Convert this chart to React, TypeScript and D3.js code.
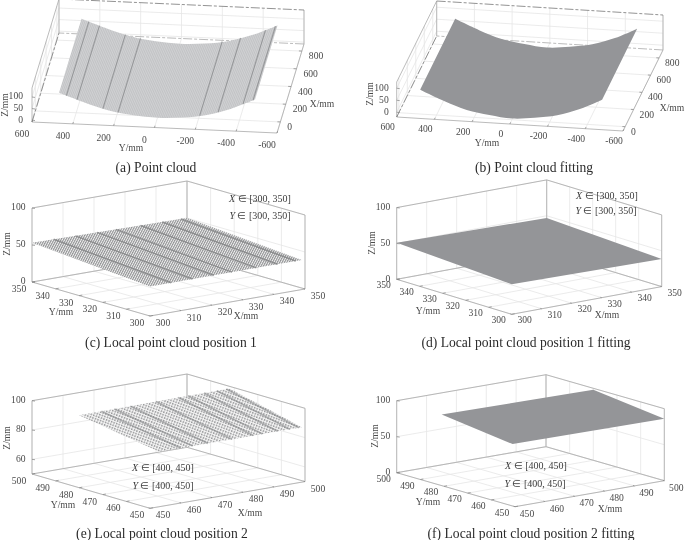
import React from "react";
import * as d3 from "d3";

// tick labels
const wideYTicks = [-600, -400, -200, 0, 200, 400, 600];
const wideXTicks = [0, 200, 400, 600, 800];
const wideZTicks = [0, 50, 100];
const ticks300 = [300, 310, 320, 330, 340, 350];
const ticks450 = [450, 460, 470, 480, 490, 500];
const zTicksE = [60, 80, 100];

// surface profiles (Z along Y)
const profileYA = [-476, -360, -240, -120, 0, 120, 240, 360, 484];
const profileZA = [84, 40, 8, -8, -14, -8, 8, 38, 75];
const profileYB = [-478, -360, -240, -120, 0, 120, 240, 360, 487];
const profileZB = [87, 42, 10, -6, -15, -6, 9, 40, 81];
const extentXA = [0, 836];
const extentXB = [0, 826];
const scanYA = [448, 396, 269, 195, -205, -295, -417, -466];

// local patches, corners in order left, front, right, back
const cornersXC = [300, 300, 349, 350];
const cornersYC = [350, 300, 300, 350];
const cornersZC = [53, 40, 40, 50];
const scanXC = [307, 314, 321, 327, 335, 342, 348];

const cornersXD = [300, 300, 350, 350];
const cornersYD = [350, 300, 300, 350];
const cornersZD = [51, 42, 38.6, 47];

const cornersXE = [453, 453, 499, 500];
const cornersYE = [484, 450, 450, 482];
const cornersZE = [96.4, 87.5, 87.5, 98.6];
const scanXE = [460, 464, 469, 477, 484, 487, 492, 496, 499];

const cornersXF = [450, 450, 500, 500];
const cornersYF = [481, 451, 450, 480];
const cornersZF = [98.8, 86, 86, 98];

type Vec = [number, number];

type PanelDef = {
  id: string;
  origin: Vec;
  vecX: Vec;
  vecY: Vec;
  zHeight: number;
  xDomain: number[];
  yDomain: number[];
  zDomain: number[];
  xTicks: number[];
  yTicks: number[];
  zTicks: number[];
  xLabelOffset: Vec;
  yLabelOffset: Vec;
  zLabelOffset: number;
  xAnchor: string;
  titles: { x: Vec; y: Vec; z: Vec };
  caption: string;
  captionAt: Vec;
  note?: { range: string; at: [Vec, Vec] };
  dashedBack?: boolean;
  surface: "dense" | "solid";
  profile?: { ys: number[]; zs: number[]; xs: number[]; scans?: number[] };
  corners?: { xs: number[]; ys: number[]; zs: number[]; scans?: number[] };
  hatch?: { size: number; angle: number; width: number; gap: number; bg: string; ink: string };
  scanColor?: string;
  scanWidth?: number;
  scanOpacity?: number;
};

const panels: PanelDef[] = [
  {
    id: "a",
    origin: [277, 133],
    vecX: [27, -89],
    vecY: [-245, -11],
    zHeight: 34,
    xDomain: [-125, 880],
    yDomain: [-600, 600],
    zDomain: [-8, 139],
    xTicks: wideXTicks,
    yTicks: wideYTicks,
    zTicks: wideZTicks,
    xLabelOffset: [7, 8],
    yLabelOffset: [-10, 15],
    zLabelOffset: -9,
    xAnchor: "start",
    titles: { x: [322, 107], y: [131, 151], z: [8, 105] },
    caption: "(a) Point cloud",
    captionAt: [156, 172],
    dashedBack: true,
    surface: "dense",
    profile: { ys: profileYA, zs: profileZA, xs: extentXA, scans: scanYA },
    hatch: { size: 1.7, angle: 20, width: 0.6, gap: 0, bg: "#d0d1d3", ink: "#bcbdbf" },
    scanColor: "#8a8b8d",
    scanWidth: 1.1,
    scanOpacity: 0.8,
  },
  {
    id: "b",
    origin: [623, 131],
    vecX: [40, -81],
    vecY: [-226.3, -14],
    zHeight: 35,
    xDomain: [-50, 893],
    yDomain: [-600, 600],
    zDomain: [-20, 126],
    xTicks: wideXTicks,
    yTicks: wideYTicks,
    zTicks: wideZTicks,
    xLabelOffset: [6, 8],
    yLabelOffset: [-9, 13],
    zLabelOffset: -8,
    xAnchor: "start",
    titles: { x: [672, 111], y: [487, 146], z: [373, 94] },
    caption: "(b) Point cloud fitting",
    captionAt: [534, 172],
    dashedBack: true,
    surface: "solid",
    profile: { ys: profileYB, zs: profileZB, xs: extentXB },
  },
  {
    id: "c",
    origin: [150, 316],
    vecX: [155, -27],
    vecY: [-118, -34],
    zHeight: 74,
    xDomain: [300, 350],
    yDomain: [300, 350],
    zDomain: [0, 100],
    xTicks: ticks300,
    yTicks: ticks300,
    zTicks: wideZTicks,
    xLabelOffset: [13, 10],
    yLabelOffset: [-13, 10],
    zLabelOffset: -6.5,
    xAnchor: "middle",
    titles: { x: [246, 319], y: [61, 315], z: [10, 244] },
    caption: "(c) Local point cloud position 1",
    captionAt: [171, 347],
    note: { range: "[300, 350]", at: [[260, 202], [260, 219]] },
    surface: "dense",
    corners: { xs: cornersXC, ys: cornersYC, zs: cornersZC, scans: scanXC },
    hatch: { size: 2.1, angle: 28, width: 1.1, gap: 0, bg: "#f2f2f2", ink: "#8f9092" },
    scanColor: "#828385",
    scanWidth: 1.5,
    scanOpacity: 0.8,
  },
  {
    id: "d",
    origin: [511.7, 314.3],
    vecX: [150, -27.7],
    vecY: [-115, -35],
    zHeight: 71.7,
    xDomain: [300, 350],
    yDomain: [300, 350],
    zDomain: [0, 100],
    xTicks: ticks300,
    yTicks: ticks300,
    zTicks: wideZTicks,
    xLabelOffset: [13, 9],
    yLabelOffset: [-13, 9],
    zLabelOffset: -6.5,
    xAnchor: "middle",
    titles: { x: [607, 318], y: [428, 314], z: [375, 243] },
    caption: "(d) Local point cloud position 1 fitting",
    captionAt: [526, 347],
    note: { range: "[300, 350]", at: [[607, 199], [606, 214]] },
    surface: "solid",
    corners: { xs: cornersXD, ys: cornersYD, zs: cornersZD },
  },
  {
    id: "e",
    origin: [150, 508.3],
    vecX: [155, -26.7],
    vecY: [-118, -34.3],
    zHeight: 73.3,
    xDomain: [450, 500],
    yDomain: [450, 500],
    zDomain: [50, 100],
    xTicks: ticks450,
    yTicks: ticks450,
    zTicks: zTicksE,
    xLabelOffset: [13, 10],
    yLabelOffset: [-13, 10],
    zLabelOffset: -6.5,
    xAnchor: "middle",
    titles: { x: [250, 516], y: [63, 508], z: [10, 438] },
    caption: "(e) Local point cloud position 2",
    captionAt: [162, 538],
    note: { range: "[400, 450]", at: [[163, 471], [163, 489]] },
    surface: "dense",
    corners: { xs: cornersXE, ys: cornersYE, zs: cornersZE, scans: scanXE },
    hatch: { size: 2.7, angle: 20, width: 1.4, gap: 0.9, bg: "#f4f4f4", ink: "#9a9b9d" },
    scanColor: "#808183",
    scanWidth: 1.7,
    scanOpacity: 0.55,
  },
  {
    id: "f",
    origin: [515, 506.7],
    vecX: [149.3, -26],
    vecY: [-118.3, -34],
    zHeight: 72,
    xDomain: [450, 500],
    yDomain: [450, 500],
    zDomain: [0, 100],
    xTicks: ticks450,
    yTicks: ticks450,
    zTicks: wideZTicks,
    xLabelOffset: [12, 10],
    yLabelOffset: [-13, 9],
    zLabelOffset: -6.5,
    xAnchor: "middle",
    titles: { x: [610, 512], y: [428, 505], z: [378, 436] },
    caption: "(f) Local point cloud position 2 fitting",
    captionAt: [531, 538],
    note: { range: "[400, 450]", at: [[536, 469], [535, 487]] },
    surface: "solid",
    corners: { xs: cornersXF, ys: cornersYF, zs: cornersZF },
  },
];

const serif = "'Liberation Serif', serif";
const surfaceGray = "#949598";
const axisGray = "#a9a9a9";
const gridGray = "#e6e6e6";
const textGray = "#4a4a4a";

function makeProjection(p: PanelDef) {
  const xPx = d3.scaleLinear().domain(p.xDomain).range([0, 1]);
  const yPx = d3.scaleLinear().domain(p.yDomain).range([0, 1]);
  const zPx = d3.scaleLinear().domain(p.zDomain).range([0, p.zHeight]);
  return (x: number, y: number, z: number): Vec => [
    p.origin[0] + xPx(x) * p.vecX[0] + yPx(y) * p.vecY[0],
    p.origin[1] + xPx(x) * p.vecX[1] + yPx(y) * p.vecY[1] - zPx(z),
  ];
}

const seg = (a: Vec, b: Vec) => `M${a[0]},${a[1]}L${b[0]},${b[1]}`;

function Panel({ p }: { p: PanelDef }) {
  const proj = makeProjection(p);
  const [x0, x1] = p.xDomain;
  const [y0, y1] = p.yDomain;
  const [z0, z1] = p.zDomain;

  // gridlines on the floor and on the two back walls
  const grid = [
    ...p.xTicks.map((x) => seg(proj(x, y0, z0), proj(x, y1, z0))),
    ...p.yTicks.map((y) => seg(proj(x0, y, z0), proj(x1, y, z0))),
    ...p.yTicks.map((y) => seg(proj(x1, y, z0), proj(x1, y, z1))),
    ...p.xTicks.map((x) => seg(proj(x, y1, z0), proj(x, y1, z1))),
    ...p.zTicks.flatMap((z) => [
      seg(proj(x0, y1, z), proj(x1, y1, z)),
      seg(proj(x1, y1, z), proj(x1, y0, z)),
    ]),
  ].join("");

  const edges = [
    seg(proj(x0, y0, z0), proj(x0, y1, z0)),
    seg(proj(x0, y0, z0), proj(x1, y0, z0)),
    seg(proj(x0, y1, z0), proj(x0, y1, z1)),
    seg(proj(x1, y0, z0), proj(x1, y0, z1)),
    seg(proj(x1, y1, z0), proj(x1, y1, z1)),
    seg(proj(x0, y1, z1), proj(x1, y1, z1)),
  ];
  const backEdges = [
    seg(proj(x0, y1, z0), proj(x1, y1, z0)),
    seg(proj(x1, y0, z0), proj(x1, y1, z0)),
    seg(proj(x1, y1, z1), proj(x1, y0, z1)),
  ];

  const tickLenX = (x1 - x0) * 0.02;
  const tickLenY = (y1 - y0) * 0.012;
  const ticks = [
    ...p.yTicks.map((y) => seg(proj(x0, y, z0), proj(x0 + tickLenX, y, z0))),
    ...p.xTicks.map((x) => seg(proj(x, y0, z0), proj(x, y0 + tickLenY, z0))),
    ...p.zTicks.map((z) => {
      const a = proj(x0, y1, z);
      return seg(a, [a[0] + 3, a[1] + 0.4]);
    }),
  ].join("");

  // surface outline and scan stripes
  const line = d3.line<Vec>().curve(d3.curveCatmullRom.alpha(0.5));
  let outline = "";
  let scans: string[] = [];
  if (p.profile) {
    const { ys, zs, xs } = p.profile;
    const front = ys.map((y, i) => proj(xs[0], y, zs[i]));
    const back = ys.map((y, i) => proj(xs[1], y, zs[i])).reverse();
    outline = `${line(front)}L${line(back)!.slice(1)}Z`;
    const zAtY = d3.scaleLinear().domain(ys).range(zs);
    scans = (p.profile.scans ?? []).map((y) =>
      seg(proj(xs[0], y, zAtY(y)), proj(xs[1], y, zAtY(y)))
    );
  } else if (p.corners) {
    const { xs, ys, zs } = p.corners;
    const pts = xs.map((x, i) => proj(x, ys[i], zs[i]));
    outline = d3.line<Vec>()(pts)! + "Z";
    scans = (p.corners.scans ?? []).map((x) => {
      const t = (x - xs[0]) / (xs[3] - xs[0]);
      const a = d3.interpolate(pts[0], pts[3])(t) as unknown as Vec;
      const b = d3.interpolate(pts[1], pts[2])(t) as unknown as Vec;
      return seg(a, b);
    });
  }

  const tickText = {
    fontFamily: serif,
    fontSize: 9.6,
    fill: textGray,
  };
  const hatchId = `hatch-${p.id}`;

  return (
    <g>
      <path d={grid} fill="none" stroke={gridGray} strokeWidth={0.8} />
      {edges.map((d, i) => (
        <path key={i} d={d} fill="none" stroke={axisGray} strokeWidth={0.8} />
      ))}
      {backEdges.map((d, i) => (
        <path
          key={i}
          d={d}
          fill="none"
          stroke={p.dashedBack && i !== 1 ? "#777" : axisGray}
          strokeWidth={0.8}
          strokeDasharray={p.dashedBack ? "9 2 3 2" : undefined}
        />
      ))}
      <path d={ticks} fill="none" stroke="#808080" strokeWidth={0.7} />

      {p.hatch && (
        <defs>
          <pattern
            id={hatchId}
            patternUnits="userSpaceOnUse"
            width={p.hatch.size}
            height={p.hatch.size}
            patternTransform={`rotate(${p.hatch.angle})`}
          >
            <rect width={p.hatch.size} height={p.hatch.size} fill={p.hatch.bg} />
            <rect width={p.hatch.width} height={p.hatch.size} fill={p.hatch.ink} />
            {p.hatch.gap > 0 && (
              <rect width={p.hatch.size} height={p.hatch.gap} fill={p.hatch.bg} />
            )}
          </pattern>
        </defs>
      )}
      <path
        d={outline}
        fill={p.surface === "solid" ? surfaceGray : `url(#${hatchId})`}
        stroke="none"
      />
      {scans.map((d, i) => (
        <path
          key={i}
          d={d}
          fill="none"
          stroke={p.scanColor}
          strokeWidth={p.scanWidth}
          opacity={p.scanOpacity}
        />
      ))}

      {p.zTicks.map((z) => {
        const a = proj(x0, y1, z);
        return (
          <text
            key={z}
            x={a[0] + p.zLabelOffset}
            y={a[1] + 2.4}
            textAnchor="end"
            {...tickText}
          >
            {z}
          </text>
        );
      })}
      {p.yTicks.map((y) => {
        const a = proj(x0, y, z0);
        return (
          <text
            key={y}
            x={a[0] + p.yLabelOffset[0]}
            y={a[1] + p.yLabelOffset[1]}
            textAnchor="middle"
            {...tickText}
          >
            {y}
          </text>
        );
      })}
      {p.xTicks.map((x) => {
        const a = proj(x, y0, z0);
        return (
          <text
            key={x}
            x={a[0] + p.xLabelOffset[0]}
            y={a[1] + p.xLabelOffset[1]}
            textAnchor={p.xAnchor as "start" | "middle"}
            {...tickText}
          >
            {x}
          </text>
        );
      })}

      <text x={p.titles.x[0]} y={p.titles.x[1]} textAnchor="middle" {...tickText}>
        X/mm
      </text>
      <text x={p.titles.y[0]} y={p.titles.y[1]} textAnchor="middle" {...tickText}>
        Y/mm
      </text>
      <text
        transform={`translate(${p.titles.z[0]},${p.titles.z[1]}) rotate(-90)`}
        textAnchor="middle"
        {...tickText}
      >
        Z/mm
      </text>

      {p.note &&
        ["X", "Y"].map((axis, i) => (
          <text
            key={axis}
            x={p.note!.at[i][0]}
            y={p.note!.at[i][1]}
            textAnchor="middle"
            fontFamily={serif}
            fontSize={10}
            fill="#3c3c3c"
          >
            <tspan fontStyle="italic">{axis}</tspan> ∈ {p.note!.range}
          </text>
        ))}

      <text
        x={p.captionAt[0]}
        y={p.captionAt[1]}
        textAnchor="middle"
        fontFamily={serif}
        fontSize={13.6}
        fill="#2b2b2b"
      >
        {p.caption}
      </text>
    </g>
  );
}

export default function App() {
  return (
    <svg
      width={685}
      height={540}
      viewBox="0 0 685 540"
      style={{ position: "absolute", left: 0, top: 0, background: "#fff" }}
    >
      <defs>
        <filter id="soft" x="0" y="0" width="100%" height="100%">
          <feGaussianBlur stdDeviation="0.35" />
        </filter>
      </defs>
      <g filter="url(#soft)">
        <rect width={685} height={540} fill="#fff" />
        {panels.map((p) => (
          <Panel key={p.id} p={p} />
        ))}
      </g>
    </svg>
  );
}
